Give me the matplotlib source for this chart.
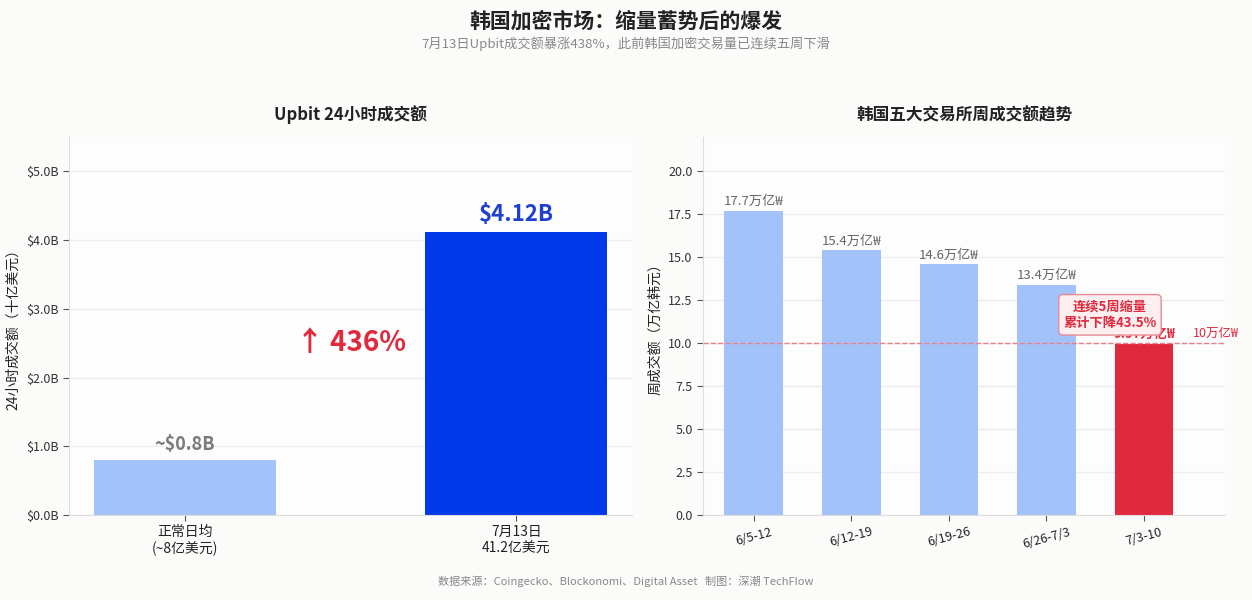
import matplotlib.pyplot as plt
import numpy as np

plt.rcParams['font.family'] = ['Noto Sans CJK SC', 'DejaVu Sans']
plt.rcParams['axes.unicode_minus'] = False

# ---- data ----
upbit_labels = ["正常日均\n(~8亿美元)", "7月13日\n41.2亿美元"]
upbit_values = [0.8, 4.12]
upbit_texts = ["~$0.8B", "$4.12B"]

week_labels = ["6/5-12", "6/12-19", "6/19-26", "6/26-7/3", "7/3-10"]
week_values = [17.7, 15.4, 14.6, 13.4, 9.97]
week_texts = ["17.7万亿₩", "15.4万亿₩", "14.6万亿₩", "13.4万亿₩", "9.97万亿₩"]
ref_line = 10

LIGHT = "#a4c2fa"
BLUE = "#0039ea"
RED = "#e0293d"
GRID = "#ececec"

fig = plt.figure(figsize=(12.52, 6), dpi=100, facecolor="#fbfbfa")

def style(ax):
    ax.set_facecolor("#fdfdfd")
    for s in ["top", "right"]:
        ax.spines[s].set_visible(False)
    for s in ["left", "bottom"]:
        ax.spines[s].set_color("#dddddd")
    ax.yaxis.grid(True, color=GRID, linewidth=0.9)
    ax.set_axisbelow(True)
    ax.tick_params(colors="#333333", labelsize=9, length=4)
    ax.tick_params(axis="both", color="#555555")

# ---- left: Upbit ----
ax1 = fig.add_axes([0.055, 0.1417, 0.45, 0.63])
style(ax1)
x1 = np.arange(len(upbit_values))
ax1.bar(x1, upbit_values, width=0.55, color=[LIGHT, BLUE])
ax1.set_xlim(-0.35, 1.35)
ax1.set_ylim(0, 5.5)
ax1.set_yticks(np.arange(0, 5.01, 1.0))
ax1.set_yticklabels([f"${v:.1f}B" for v in np.arange(0, 5.01, 1.0)])
ax1.set_xticks(x1)
ax1.set_xticklabels(upbit_labels, fontsize=10, color="#222222")
ax1.set_ylabel("24小时成交额（十亿美元）", fontsize=10, color="#222222")
ax1.set_title("Upbit 24小时成交额", fontsize=12, fontweight="bold", pad=12, color="#222222")
ax1.text(x1[0], upbit_values[0] + 0.08, upbit_texts[0], ha="center", va="bottom",
         fontsize=13, fontweight="bold", color="#7a7a7a")
ax1.text(x1[1], upbit_values[1] + 0.08, upbit_texts[1], ha="center", va="bottom",
         fontsize=16, fontweight="bold", color="#1f3fcf")
ax1.text(0.5, 2.5, "↑ 436%", ha="center", va="center", fontsize=20,
         fontweight="bold", color=RED)

# ---- right: weekly volume ----
ax2 = fig.add_axes([0.5615, 0.1417, 0.417, 0.63])
style(ax2)
x2 = np.arange(len(week_values))
colors = [LIGHT] * (len(week_values) - 1) + [RED]
ax2.bar(x2, week_values, width=0.6, color=colors)
ax2.set_xlim(-0.52, 4.83)
ax2.set_ylim(0, 22)
ax2.set_yticks(np.arange(0, 20.01, 2.5))
ax2.set_yticklabels([f"{v:.1f}" for v in np.arange(0, 20.01, 2.5)])
ax2.set_xticks(x2)
ax2.set_xticklabels(week_labels, rotation=15, fontsize=9, color="#222222")
ax2.set_ylabel("周成交额（万亿韩元）", fontsize=10, color="#222222")
ax2.set_title("韩国五大交易所周成交额趋势", fontsize=12, fontweight="bold", pad=12, color="#222222")
for i, (v, t) in enumerate(zip(week_values, week_texts)):
    last = i == len(week_values) - 1
    ax2.text(x2[i], v + 0.15, t, ha="center", va="bottom", fontsize=9.5,
             color=RED if last else "#666666", fontweight="bold" if last else "normal")
ax2.axhline(ref_line, color="#e8808c", linestyle="--", linewidth=1.0)
ax2.text(4.5, ref_line + 0.2, "10万亿₩", ha="left", va="bottom", fontsize=9,
         color=RED, clip_on=False)
ax2.text(3.65, 11.65, "连续5周缩量\n累计下降43.5%", ha="center", va="center",
         fontsize=9.5, fontweight="bold", color=RED, linespacing=1.3,
         bbox=dict(boxstyle="round,pad=0.35", facecolor="#fdeef0",
                   edgecolor="#e88a96", linewidth=1))

# ---- figure texts ----
fig.text(0.5, 0.965, "韩国加密市场：缩量蓄势后的爆发", ha="center", va="center",
         fontsize=15, fontweight="bold", color="#222222")
fig.text(0.5, 0.928, "7月13日Upbit成交额暴涨438%，此前韩国加密交易量已连续五周下滑",
         ha="center", va="center", fontsize=9.5, color="#888888")
fig.text(0.5, 0.031, "数据来源：Coingecko、Blockonomi、Digital Asset   制图：深潮 TechFlow",
         ha="center", va="center", fontsize=8, color="#888888")

fig.savefig("out.png", dpi=100, facecolor=fig.get_facecolor())
